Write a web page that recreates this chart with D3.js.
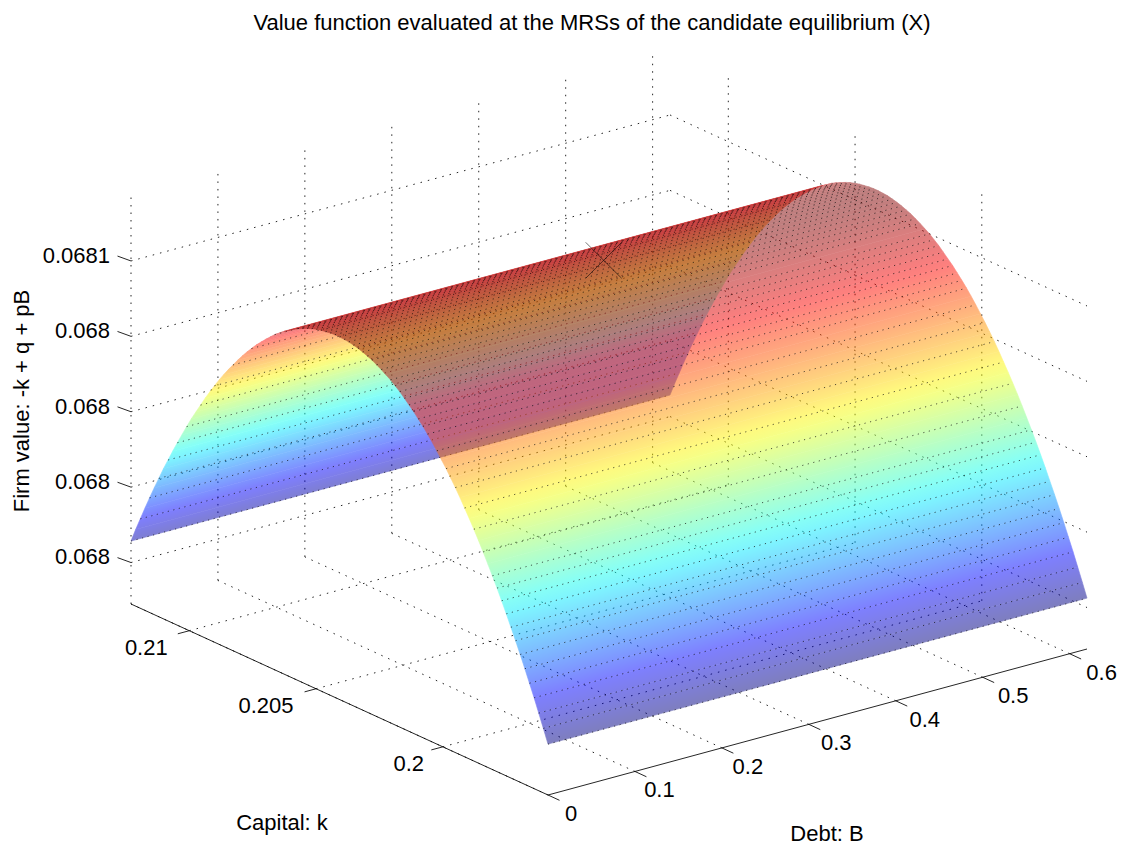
<!doctype html>
<html>
  <head>
    <meta charset="utf-8">
    <title>Value function surface</title>
    <script src="https://d3js.org/d3.v7.min.js"></script>
    <style type="text/css">
      html, body { margin: 0; padding: 0; background: #fff; }
      svg { display: block; }
      text {
        font-family: "Liberation Sans", Arial, sans-serif;
        font-size: 22px;
        fill: #000;
      }
      .grid { stroke: #000; stroke-width: 1; stroke-dasharray: 1.5 6; fill: none; opacity: 0.85; }
      .axis { stroke: #000; stroke-width: 1; fill: none; opacity: 0.85; }
      .marker { stroke: #000; stroke-width: 1; fill: none; opacity: 0.55; }
      .mesh { stroke: #000; stroke-width: 1; stroke-dasharray: 1.2 4.5; fill: none; opacity: 0.65; }
    </style>
  </head>
  <body>
    <svg></svg>
    <script type="text/javascript">
      var w = 1122,
        h = 848;

      // axis limits and ticks
      var bLimits = [0, 0.62],
        kLimits = [0.2123, 0.19585],
        zLimits = [0.067969, 0.0680775];

      var bTicks = [0, 0.1, 0.2, 0.3, 0.4, 0.5, 0.6],
        bTickLabels = ['0', '0.1', '0.2', '0.3', '0.4', '0.5', '0.6'],
        kTicks = [0.21, 0.205, 0.2],
        kTickLabels = ['0.21', '0.205', '0.2'],
        kLabelShift = [-43, -50, -34],
        zTicks = [0.06798, 0.068, 0.06802, 0.06804, 0.06806],
        zTickLabels = ['0.068', '0.068', '0.068', '0.068', '0.0681'];

      // firm value along each capital row, far edge (high k) to near edge (low k)
      var firmValue = [
        0.0679857, 0.0679893, 0.0679927, 0.0679961, 0.0679994, 0.0680026, 0.0680057, 0.0680088,
        0.0680117, 0.0680146, 0.0680174, 0.0680201, 0.0680228, 0.0680254, 0.0680278, 0.0680302,
        0.0680326, 0.0680348, 0.0680370, 0.0680391, 0.0680411, 0.0680430, 0.0680448, 0.0680466,
        0.0680483, 0.0680499, 0.0680514, 0.0680529, 0.0680542, 0.0680555, 0.0680567, 0.0680579,
        0.0680589, 0.0680599, 0.0680607, 0.0680616, 0.0680623, 0.0680629, 0.0680635, 0.0680640,
        0.0680644, 0.0680647, 0.0680649, 0.0680651, 0.0680652, 0.0680652, 0.0680651, 0.0680650,
        0.0680647, 0.0680644, 0.0680640, 0.0680635, 0.0680630, 0.0680623, 0.0680616, 0.0680608,
        0.0680600, 0.0680590, 0.0680580, 0.0680568, 0.0680556, 0.0680544, 0.0680530, 0.0680516,
        0.0680501, 0.0680485, 0.0680468, 0.0680450, 0.0680432, 0.0680413, 0.0680393, 0.0680372,
        0.0680350, 0.0680328, 0.0680305, 0.0680281, 0.0680256, 0.0680230, 0.0680204, 0.0680177,
        0.0680149, 0.0680120, 0.0680090, 0.0680060, 0.0680029, 0.0679997, 0.0679964, 0.0679931,
        0.0679896, 0.0679861, 0.0679825
      ];

      // the candidate equilibrium, marked with an X
      var candidate = { b: 0.304, k: 0.20408, z: 0.0680665 };

      var kStep = (kLimits[1] - kLimits[0]) / (firmValue.length - 1);
      var rows = firmValue.map(function(z, i) {
        return { k: kLimits[0] + i * kStep, z: z };
      });

      // oblique projection: each data axis moves the point along a fixed screen vector
      var origin = [131, 604];
      var bx = d3.scaleLinear().domain(bLimits).range([0, 539]),
        by = d3.scaleLinear().domain(bLimits).range([0, -146]),
        kx = d3.scaleLinear().domain(kLimits).range([0, 417]),
        ky = d3.scaleLinear().domain(kLimits).range([0, 191]),
        zy = d3.scaleLinear().domain(zLimits).range([0, -409]);

      function project(b, k, z) {
        return [origin[0] + bx(b) + kx(k), origin[1] + by(b) + ky(k) + zy(z)];
      }

      // jet colormap over the range of the surface
      var zMin = d3.min(firmValue),
        zMax = d3.max(firmValue);
      var jet = d3.scaleLinear()
        .domain([0, 0.125, 0.375, 0.625, 0.875, 1].map(function(t) {
          return zMin + t * (zMax - zMin);
        }))
        .range(['#000080', '#0000ff', '#00ffff', '#ffff00', '#ff0000', '#800000']);

      var svg = d3.select('svg')
        .attr('width', w)
        .attr('height', h);

      var line = d3.line();

      function segment(parent, cls, a, b) {
        parent.append('path').attr('class', cls).attr('d', line([a, b]));
      }

      // grid on the floor and the two back walls
      var grid = svg.append('g');
      var b0 = bLimits[0], b1 = bLimits[1], kFar = kLimits[0], kNear = kLimits[1],
        zLo = zLimits[0], zHi = zLimits[1];

      bTicks.forEach(function(b) {
        segment(grid, 'grid', project(b, kNear, zLo), project(b, kFar, zLo));
        segment(grid, 'grid', project(b, kFar, zLo), project(b, kFar, zHi));
      });
      kTicks.forEach(function(k) {
        segment(grid, 'grid', project(b0, k, zLo), project(b1, k, zLo));
        segment(grid, 'grid', project(b1, k, zLo), project(b1, k, zHi));
      });
      zTicks.forEach(function(z) {
        segment(grid, 'grid', project(b0, kFar, z), project(b1, kFar, z));
        segment(grid, 'grid', project(b1, kFar, z), project(b1, kNear, z));
      });

      // the surface folds along its silhouette, so split it there and paint far part first.
      // within a part the colour only changes across the B direction: one gradient is enough
      var bDir = [bx(b1) - bx(b0), by(b1) - by(b0)],
        bLen = Math.hypot(bDir[0], bDir[1]),
        normal = [-bDir[1] / bLen, bDir[0] / bLen];

      function across(row) {
        var p = project(b0, row.k, row.z);
        return p[0] * normal[0] + p[1] * normal[1];
      }

      var fold = d3.leastIndex(rows, function(a, b) {
        return across(a) - across(b);
      });

      // the dotted mesh shows about every 13px, tighter towards the ridge
      function meshGap(z) {
        if (z > 0.068062) return 0;
        return z > 0.06805 ? 6.5 : 13;
      }

      function meshRows(part) {
        var last = null;
        return part.filter(function(d) {
          if (last === null || Math.abs(across(d) - last) >= meshGap(d.z)) {
            last = across(d);
            return true;
          }
          return false;
        });
      }

      var defs = svg.append('defs');

      function drawPart(part, id) {
        var s0 = across(part[0]),
          s1 = across(part[part.length - 1]);
        var start = project(b0, part[0].k, part[0].z);
        var gradient = defs.append('linearGradient')
          .attr('id', id)
          .attr('gradientUnits', 'userSpaceOnUse')
          .attr('x1', start[0])
          .attr('y1', start[1])
          .attr('x2', start[0] + normal[0] * (s1 - s0))
          .attr('y2', start[1] + normal[1] * (s1 - s0));

        gradient.selectAll('stop')
          .data(part)
          .enter()
          .append('stop')
          .attr('offset', function(d) {
            return (across(d) - s0) / (s1 - s0);
          })
          .attr('stop-color', function(d) {
            return jet(d.z);
          });

        var g = svg.append('g').attr('opacity', 0.5);
        g.selectAll('path')
          .data(d3.pairs(part))
          .enter()
          .append('path')
          .attr('d', function(d) {
            return line([
              project(b0, d[0].k, d[0].z),
              project(b1, d[0].k, d[0].z),
              project(b1, d[1].k, d[1].z),
              project(b0, d[1].k, d[1].z)
            ]) + 'Z';
          })
          .attr('fill', 'url(#' + id + ')')
          .attr('stroke', 'url(#' + id + ')')
          .attr('stroke-width', 0.6);

        var mesh = svg.append('g');
        mesh.selectAll('path')
          .data(meshRows(part))
          .enter()
          .append('path')
          .attr('class', 'mesh')
          .attr('d', function(d) {
            return line([project(b0, d.k, d.z), project(b1, d.k, d.z)]);
          });
      }

      drawPart(rows.slice(0, fold + 1), 'jetFar');
      drawPart(rows.slice(fold).reverse(), 'jetNear');

      // candidate equilibrium marker
      var c = project(candidate.b, candidate.k, candidate.z);
      var xm = 18;
      segment(svg, 'marker', [c[0] - xm, c[1] - xm], [c[0] + xm, c[1] + xm]);
      segment(svg, 'marker', [c[0] - xm, c[1] + xm], [c[0] + xm, c[1] - xm]);

      // solid axes and tick marks
      var axes = svg.append('g');
      segment(axes, 'axis', project(b0, kFar, zLo), project(b0, kNear, zLo));
      segment(axes, 'axis', project(b0, kNear, zLo), project(b1, kNear, zLo));

      var tickB = [11.5, 5.3],
        tickK = [-11.5, 3.1],
        tickZ = [-13.5, -4.9];

      function tickMark(p, v) {
        segment(axes, 'axis', p, [p[0] + v[0], p[1] + v[1]]);
      }

      function label(txt, x, y, anchor) {
        return svg.append('text')
          .text(txt)
          .attr('x', x)
          .attr('y', y)
          .attr('text-anchor', anchor || 'middle')
          .attr('dominant-baseline', 'middle');
      }

      bTicks.forEach(function(b, i) {
        var p = project(b, kNear, zLo);
        tickMark(p, tickB);
        label(bTickLabels[i], p[0] + 23 + b * 15, p[1] + 20);
      });
      kTicks.forEach(function(k, i) {
        var p = project(b0, k, zLo);
        tickMark(p, tickK);
        label(kTickLabels[i], p[0] + kLabelShift[i], p[1] + 18.5);
      });
      zTicks.forEach(function(z, i) {
        var p = project(b0, kFar, z);
        tickMark(p, tickZ);
        label(zTickLabels[i], p[0] - 21, p[1] - 4, 'end');
      });

      // titles
      label('Value function evaluated at the MRSs of the candidate equilibrium (X)', 592, 24);
      label('Capital: k', 282, 824);
      label('Debt: B', 827, 835);
      label('Firm value: -k + q + pB', 0, 0)
        .attr('transform', 'translate(23,401) rotate(-90)');
    </script>
  </body>
</html>
